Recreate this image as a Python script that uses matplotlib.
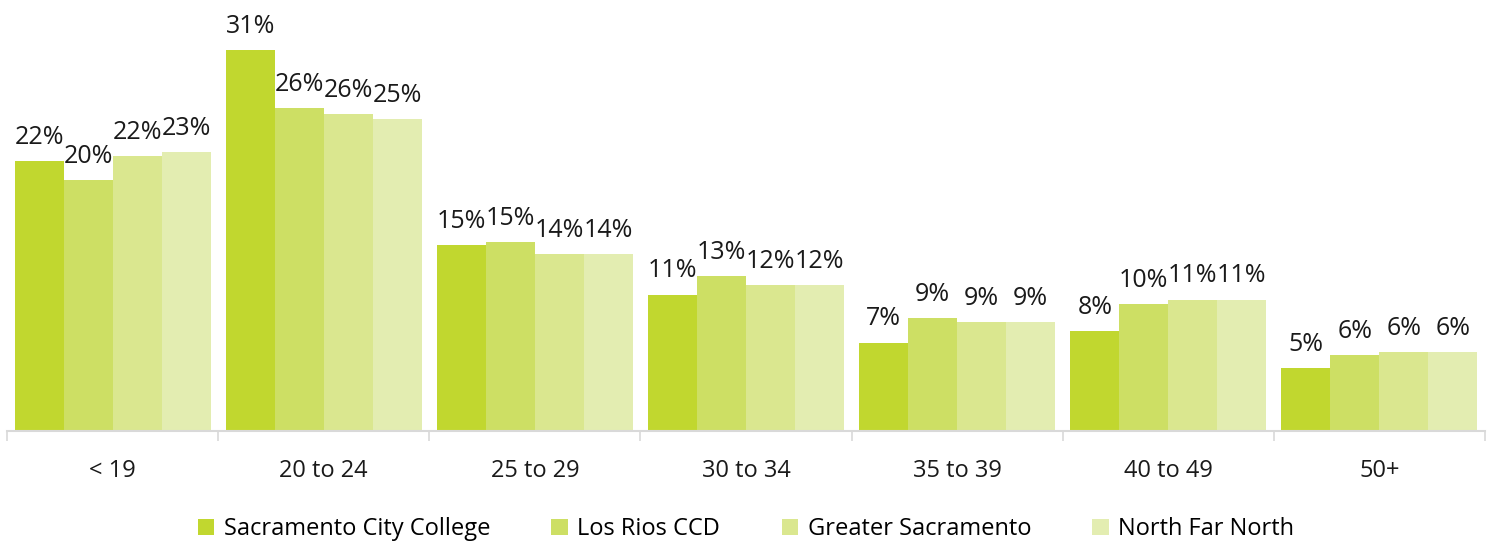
import numpy as np
import matplotlib.pyplot as plt
from matplotlib.ticker import FixedLocator

# Age groups and share of students per region (percent)
age_groups = ['< 19', '20 to 24', '25 to 29', '30 to 34', '35 to 39', '40 to 49', '50+']
series_names = ['Sacramento City College', 'Los Rios CCD', 'Greater Sacramento', 'North Far North']
scc = [22.0, 31.0, 15.1, 11.1, 7.2, 8.1, 5.1]
los_rios = [20.4, 26.3, 15.4, 12.6, 9.2, 10.3, 6.2]
greater_sac = [22.4, 25.8, 14.4, 11.9, 8.9, 10.7, 6.4]
north_far_north = [22.7, 25.4, 14.4, 11.9, 8.9, 10.7, 6.45]
colors = ['#C1D72F', '#CDDF64', '#DAE78F', '#E3EDB1']

plt.rcParams['font.family'] = ['Open Sans', 'DejaVu Sans']

fig = plt.figure(figsize=(14.95, 5.42), dpi=100)
ax = fig.add_axes([7 / 1495, 1 - 431 / 542, 1478 / 1495, 431 / 542])

x = np.arange(len(age_groups))
w = 0.232
all_series = [scc, los_rios, greater_sac, north_far_north]
for i, vals in enumerate(all_series):
    pos = x + (i - 1.5) * w
    ax.bar(pos, vals, width=w, color=colors[i], label=series_names[i])
    for xx, v in zip(pos, vals):
        ax.annotate(f'{v:.0f}%', (xx, v), xytext=(0, 8), textcoords='offset points',
                    ha='center', va='bottom', fontsize=18, color='#1a1a1a')

ax.set_xlim(-0.5, 6.5)
ax.set_ylim(0, 35.07)
for s in ['top', 'left', 'right']:
    ax.spines[s].set_visible(False)
ax.spines['bottom'].set_color('#D9D9D9')
ax.spines['bottom'].set_linewidth(1.5)
ax.set_yticks([])

ax.set_xticks(x)
ax.set_xticklabels(age_groups, fontsize=17, color='#1a1a1a')
ax.tick_params(axis='x', which='major', length=0, pad=20)
ax.xaxis.set_minor_locator(FixedLocator(np.arange(-0.5, 7, 1)))
ax.tick_params(axis='x', which='minor', length=7, width=1.2, color='#D9D9D9')

ax.legend(loc='lower center', bbox_to_anchor=(0.5, -0.305), ncol=4, frameon=False,
          fontsize=17, handlelength=0.7, handleheight=0.7, handletextpad=0.4,
          columnspacing=2.6)

fig.savefig('out.png', dpi=100)
